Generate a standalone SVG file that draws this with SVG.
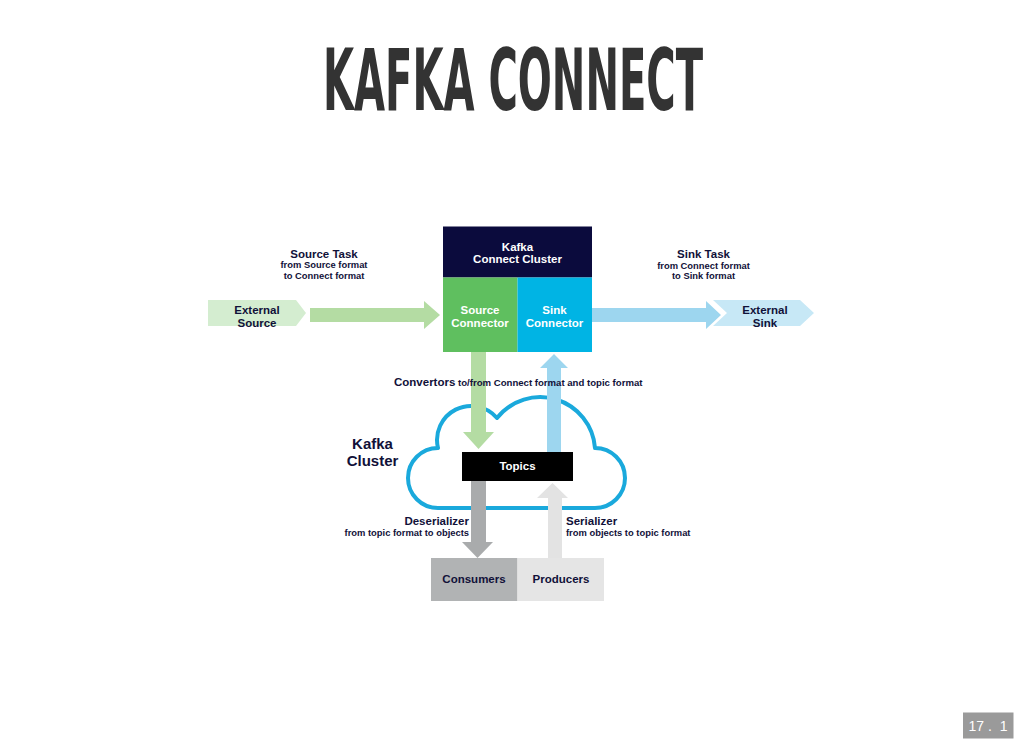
<svg xmlns="http://www.w3.org/2000/svg" width="1024" height="747" viewBox="0 0 1024 747">
<style>
  .lbl{font-family:"Liberation Sans",Arial,sans-serif;font-weight:bold;fill:#111139}
  .w{fill:#ffffff}
  .b{font-size:11.5px}
  .s{font-size:9.4px}
  .m{text-anchor:middle}
  .e{text-anchor:end}
</style>
<rect width="1024" height="747" fill="#ffffff"/>
<g id="title">
  <text transform="translate(513,110) scale(0.518,1)" x="0" y="0" text-anchor="middle" font-family="DejaVu Sans Condensed, DejaVu Sans, sans-serif" font-weight="bold" font-size="86" fill="#333333">KAFKA CONNECT</text>
</g>

<g id="kafka-cluster-cloud">
  <path d="M438,508 L595,508 A30,30 0 0 0 595,448 A55,55 0 0 0 497,418 A34,34 0 0 0 438,448 A30,30 0 0 0 438,508 Z" fill="#ffffff" stroke="#1aa9dc" stroke-width="4" stroke-linejoin="round"/>
  <text class="lbl m" x="372.5" y="449" font-size="15">Kafka</text>
  <text class="lbl m" x="372.5" y="465.5" font-size="15">Cluster</text>
</g>

<g id="connectors">
  <path d="M310,308 H424 V301 L440,315 L424,329 V322 H310 Z" fill="#b4dca3"/>
  <path d="M592,308 H706 V301 L721,315 L706,329 V322 H592 Z" fill="#9dd6ef"/>
  <path d="M471,352 V432 H463 L478.5,449 L494,432 H486 V352 Z" fill="#b4dca3"/>
  <path d="M547,452 V368 H540 L554,354 L568,368 H561 V452 Z" fill="#9dd6ef"/>
  <path d="M471,481 V542 H462 L477.5,558 L493,542 H486 V481 Z" fill="#a9abac"/>
  <path d="M548,558 V498 H537 L552.5,483 L568,498 H562 V558 Z" fill="#e3e3e3"/>
</g>

<g id="external-source">
  <polygon points="208,300 296,300 306,313 296,326 208,326" fill="#d4edd0"/>
  <text class="lbl b m" x="257" y="313.5">External</text>
  <text class="lbl b m" x="257" y="326.5">Source</text>
</g>

<g id="source-task-label">
  <text class="lbl b m" x="324" y="257.5">Source Task</text>
  <text class="lbl s m" x="324" y="268">from Source format</text>
  <text class="lbl s m" x="324" y="278.5">to Connect format</text>
</g>

<g id="kafka-connect-cluster">
  <rect x="443" y="226.5" width="149" height="51" fill="#0b0b3d"/>
  <text class="lbl w b m" x="517.5" y="250.5">Kafka</text>
  <text class="lbl w b m" x="517.5" y="263">Connect Cluster</text>
</g>

<g id="source-connector">
  <rect x="443" y="277.5" width="74.5" height="74.5" fill="#5fbf5f"/>
  <text class="lbl w b m" x="480" y="313.5">Source</text>
  <text class="lbl w b m" x="480" y="326.5">Connector</text>
</g>

<g id="sink-connector">
  <rect x="517.5" y="277.5" width="74.5" height="74.5" fill="#00b4e4"/>
  <text class="lbl w b m" x="554.5" y="313.5">Sink</text>
  <text class="lbl w b m" x="554.5" y="326.5">Connector</text>
</g>

<g id="sink-task-label">
  <text class="lbl b m" x="703.5" y="257.5">Sink Task</text>
  <text class="lbl s m" x="703.5" y="268.5">from Connect format</text>
  <text class="lbl s m" x="703.5" y="279">to Sink format</text>
</g>

<g id="external-sink">
  <polygon points="713,300 800,300 814,313 800,326 713,326 727,313" fill="#c7e8f6"/>
  <text class="lbl b m" x="765" y="313.5">External</text>
  <text class="lbl b m" x="765" y="326.5">Sink</text>
</g>

<g id="convertors-label">
  <text class="lbl" x="394" y="385.5"><tspan font-size="11.5px">Convertors</tspan><tspan font-size="9.6px"> to/from Connect format and topic format</tspan></text>
</g>

<g id="topics">
  <rect x="462" y="452" width="111" height="29" fill="#000000"/>
  <text class="lbl w b m" x="517.5" y="470">Topics</text>
</g>

<g id="deserializer-label">
  <text class="lbl b e" x="469" y="525">Deserializer</text>
  <text class="lbl s e" x="469" y="536">from topic format to objects</text>
</g>

<g id="serializer-label">
  <text class="lbl b" x="566" y="525">Serializer</text>
  <text class="lbl s" x="566" y="536">from objects to topic format</text>
</g>

<g id="consumers">
  <rect x="431" y="558" width="86.5" height="43" fill="#b1b3b4"/>
  <text class="lbl b m" x="474" y="583">Consumers</text>
</g>

<g id="producers">
  <rect x="517.5" y="558" width="86.5" height="43" fill="#e5e5e5"/>
  <text class="lbl b m" x="561" y="583">Producers</text>
</g>

<g id="page-number">
  <rect x="963" y="712.5" width="50.5" height="26" fill="#9a9a9a"/>
  <text x="988" y="731" text-anchor="middle" font-family="Liberation Sans, Arial, sans-serif" font-size="14" fill="#ffffff" xml:space="preserve">17 .  1</text>
</g>
</svg>
